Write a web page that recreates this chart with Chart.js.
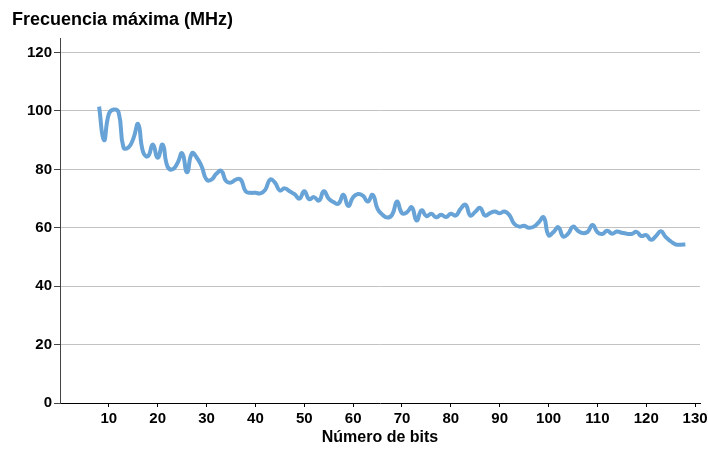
<!DOCTYPE html>
<html>
<head>
<meta charset="utf-8">
<script src="https://cdn.jsdelivr.net/npm/chart.js@4/dist/chart.umd.min.js"></script>
<style>
  html,body{margin:0;padding:0;background:#fff;}
  #wrap{width:708px;height:450px;}
</style>
</head>
<body>
<div id="wrap"><canvas id="c" width="708" height="450"></canvas></div>
<script>
// ===== Data =====
const TITLE_Y = 'Frecuencia máxima (MHz)';
const TITLE_X = 'Número de bits';
const bits = [8,9,10,11,12,13,14,15,16,17,18,19,20,21,22,23,24,25,26,27,28,29,30,31,32,33,34,35,36,37,38,39,40,
  41,42,43,44,45,46,47,48,49,50,51,52,53,54,55,56,57,58,59,60,61,62,63,64,65,66,67,68,69,70,71,72,73,74,75,76,77,78,79,80,
  81,82,83,84,85,86,87,88,89,90,91,92,93,94,95,96,97,98,99,100,101,102,103,104,105,106,107,108,109,110,
  111,112,113,114,115,116,117,118,119,120,121,122,123,124,125,126,127,128];
const freqMHz = [101.5,90,99,100.5,99.5,87.5,87.5,90.5,95.5,86,84.5,88.5,84,88.5,81,80,82,85.5,79,85.5,84,81,76.5,
  76.5,78.5,79.5,76,75.5,76.5,76.5,72.5,72,72,71.8,73,76.5,75.5,72.8,73.5,72.5,71.5,70,72.5,69.8,70.5,69.3,72.5,70,
  68.8,68.3,71.3,67.5,70.5,71.6,71,69,71.3,66.5,64.5,63.5,64.5,69,65,65.3,67,62.5,66,64,64.8,63.6,64.5,63.7,64.8,
  64.2,66.5,67.9,64.2,65.5,66.8,64.2,65,65.6,65,65.6,64.3,61.3,60.4,60.7,60,60.4,61.9,63.6,57.5,58.5,60.2,57,58,
  60.4,59,58.2,58.6,61,58.5,57.9,59,58,58.7,58.3,58,57.9,58.6,57.2,57.5,55.9,57.2,58.8,56.8,55.4,54.3,54.2,54.3];
const yTicks = [0,20,40,60,80,100,120];
const xTicks = [10,20,30,40,50,60,70,80,90,100,110,120,130];

const FONT = 'Liberation Sans, Arial, sans-serif';

// title drawn top-left like the original
const titlePlugin = {
  id:'yTitle',
  afterDraw(chart){
    const ctx = chart.ctx;
    ctx.save();
    ctx.font = 'bold 18px ' + FONT;
    ctx.fillStyle = '#000';
    ctx.textAlign = 'left';
    ctx.textBaseline = 'alphabetic';
    ctx.fillText(TITLE_Y, 12, 25);
    ctx.restore();
  }
};

new Chart(document.getElementById('c'), {
  type:'line',
  data:{
    datasets:[{
      data: bits.map((b,i)=>({x:b, y:freqMHz[i]})),
      borderColor:'#67a3d6',
      borderWidth:4,
      pointRadius:0,
      tension:0.5,
      fill:false
    }]
  },
  options:{
    responsive:false,
    animation:false,
    layout:{padding:{left:0,right:8,top:38,bottom:0}},
    plugins:{legend:{display:false},tooltip:{enabled:false},title:{display:false}},
    scales:{
      x:{
        type:'linear', min:0, max:131,
        afterBuildTicks(s){ s.ticks = xTicks.map(v=>({value:v})); },
        afterFit(s){ s.height = 47; s.paddingRight = 0; s.paddingLeft = 0; },
        grid:{drawOnChartArea:false, drawTicks:true, tickLength:4, color:'#000', tickColor:'#000'},
        border:{display:true, color:'#000', width:1},
        ticks:{color:'#000', font:{family:FONT, size:15, weight:'bold'}, padding:3, maxRotation:0, autoSkip:false},
        title:{display:true, text:TITLE_X, color:'#000', font:{family:FONT, size:16, weight:'bold'}, padding:{top:0,bottom:3}}
      },
      y:{
        min:0, max:125,
        afterBuildTicks(s){ s.ticks = yTicks.map(v=>({value:v})); },
        afterFit(s){ s.width = 60; },
        grid:{color:c=>c.tick && c.tick.value===0 ? 'rgba(0,0,0,0)' : '#c3c3c3', lineWidth:1, drawTicks:true, tickLength:6, tickColor:'#444'},
        border:{display:true, color:'#444', width:1},
        ticks:{color:'#000', font:{family:FONT, size:15, weight:'bold'}, padding:2}
      }
    }
  },
  plugins:[titlePlugin]
});
</script>
</body>
</html>
